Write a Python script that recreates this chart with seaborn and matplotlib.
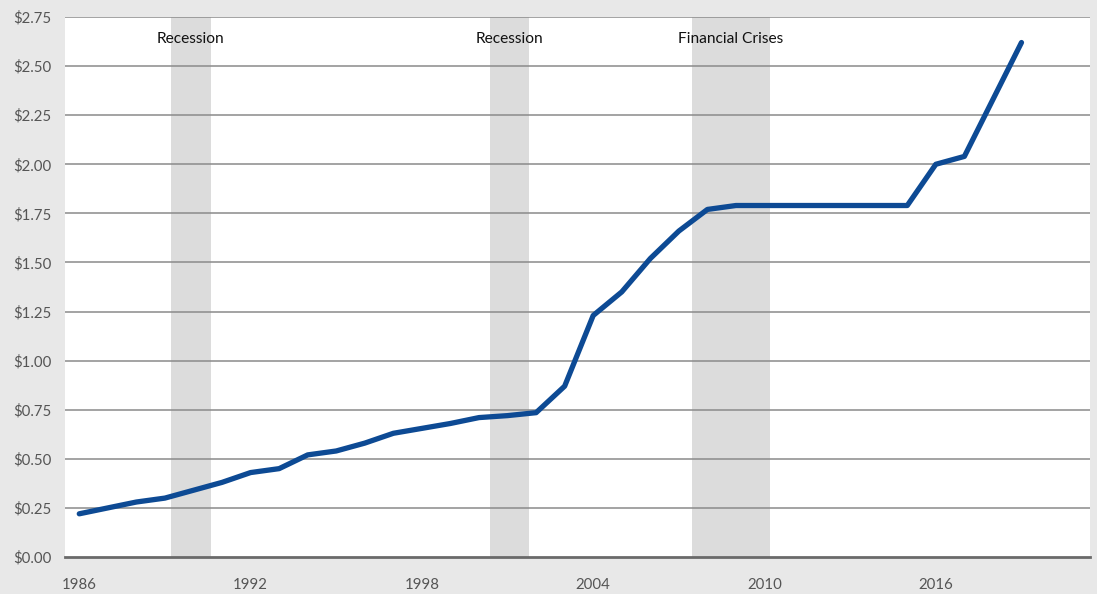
import matplotlib
matplotlib.use("Agg")
import matplotlib.pyplot as plt
import seaborn as sns
import pandas as pd

years = list(range(1986, 2020))
dividend = [0.22, 0.25, 0.28, 0.30, 0.34, 0.38, 0.43, 0.45, 0.52, 0.54,
            0.58, 0.63, 0.655, 0.68, 0.71, 0.72, 0.735, 0.87, 1.23, 1.35,
            1.52, 1.66, 1.77, 1.79, 1.79, 1.79, 1.79, 1.79, 1.79, 1.79,
            2.00, 2.04, 2.33, 2.62]
shade_labels = ["Recession", "Recession", "Financial Crises"]
shade_start = [1989.2, 2000.4, 2007.45]
shade_end = [1990.6, 2001.75, 2010.2]
x_ticks = [1986, 1992, 1998, 2004, 2010, 2016]
y_ticks = [0.0, 0.25, 0.5, 0.75, 1.0, 1.25, 1.5, 1.75, 2.0, 2.25, 2.5, 2.75]

df = pd.DataFrame({"year": years, "dividend": dividend})

sns.set_theme(style="white")
plt.rcParams['font.family'] = ['Lato', 'DejaVu Sans']

fig = plt.figure(figsize=(10.97, 5.94), dpi=100)
fig.patch.set_facecolor("#e8e8e8")
ax = fig.add_axes([65/1097, 37/594, 1025/1097, 540/594])
ax.set_facecolor("white")

for s, e in zip(shade_start, shade_end):
    ax.axvspan(s, e, color="#dcdcdc", zorder=0, lw=0)

for yv in y_ticks[1:]:
    ax.axhline(yv, color="#8a8a8a", lw=1.1, zorder=1)

sns.lineplot(data=df, x="year", y="dividend", ax=ax, color="#0d4a94",
             lw=3.8, solid_capstyle="round", zorder=3)

for lab, s, e in zip(shade_labels, shade_start, shade_end):
    ax.text((s + e) / 2, 2.64, lab, ha="center", va="center",
            fontsize=11.2, color="#111111", zorder=4)

ax.set_xlim(1985.5, 2021.4)
ax.set_ylim(0, 2.75)
ax.set_xticks(x_ticks)
ax.set_xticklabels([str(t) for t in x_ticks])
ax.set_yticks(y_ticks)
ax.set_yticklabels([f"${v:.2f}" for v in y_ticks])
ax.tick_params(axis="both", length=0, labelsize=10.8, colors="#555555")
ax.tick_params(axis="x", pad=15)
ax.tick_params(axis="y", pad=10)
ax.set_xlabel("")
ax.set_ylabel("")
for side in ["left", "right", "top"]:
    ax.spines[side].set_visible(False)
ax.spines["bottom"].set_color("#6a6a6a")
ax.spines["bottom"].set_linewidth(2)
ax.spines["bottom"].set_zorder(5)

fig.savefig("out.png", dpi=100, facecolor=fig.get_facecolor())
